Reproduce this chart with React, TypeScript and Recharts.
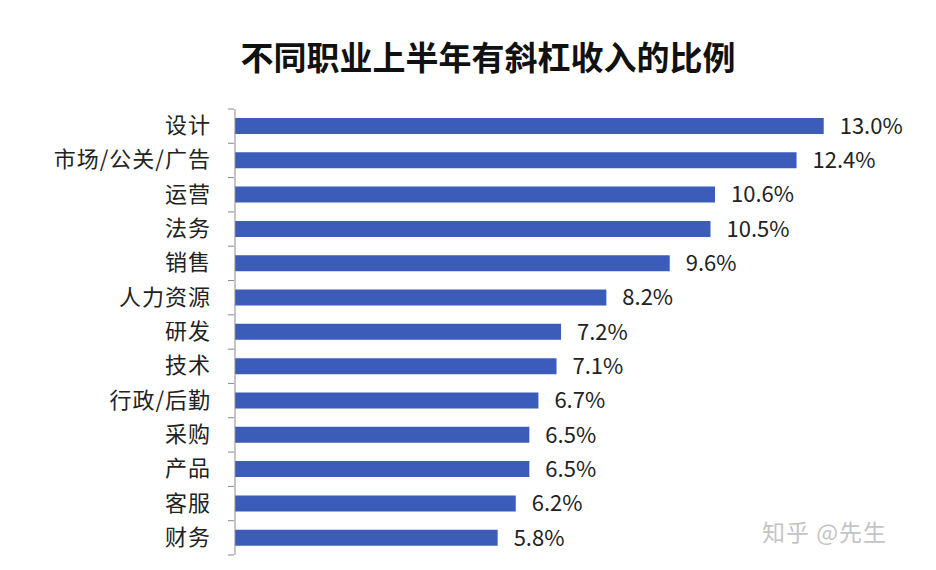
import { BarChart, Bar, XAxis, YAxis, LabelList } from "recharts";

const categories = [
  "设计",
  "市场/公关/广告",
  "运营",
  "法务",
  "销售",
  "人力资源",
  "研发",
  "技术",
  "行政/后勤",
  "采购",
  "产品",
  "客服",
  "财务",
];
const shares = [13.0, 12.4, 10.6, 10.5, 9.6, 8.2, 7.2, 7.1, 6.7, 6.5, 6.5, 6.2, 5.8];

const FONT = '"Noto Sans CJK SC", "Noto Sans", sans-serif';
const BAND = (555 - 109) / categories.length;

function CategoryTick(props: any) {
  const { x, y, payload, index } = props;
  const last = index === categories.length - 1;
  return (
    <g>
      <line x1={x + 1} x2={x + 7} y1={y - BAND / 2} y2={y - BAND / 2} stroke="#8a8a8a" />
      {last && <line x1={x + 1} x2={x + 7} y1={y + BAND / 2} y2={y + BAND / 2} stroke="#8a8a8a" />}
      <text
        x={x - 16}
        y={y}
        dy={7}
        textAnchor="end"
        fontSize={22}
        letterSpacing={1}
        fill="#222"
        fontFamily={FONT}
      >
        {payload.value}
      </text>
    </g>
  );
}

export default function App() {
  const data = categories.map((name, i) => ({ name, value: shares[i] }));
  return (
    <div style={{ position: "absolute", left: 0, top: 0, width: 936, height: 570, background: "#fff" }}>
      <div
        style={{
          position: "absolute",
          left: 0,
          width: 976,
          top: 33,
          textAlign: "center",
          fontFamily: FONT,
          fontWeight: 700,
          fontSize: 33,
          color: "#111",
          lineHeight: "46px",
        }}
      >
        不同职业上半年有斜杠收入的比例
      </div>
      <BarChart
        width={936}
        height={570}
        data={data}
        layout="vertical"
        margin={{ top: 109, right: 67, bottom: 15, left: 0 }}
        barCategoryGap={0}
      >
        <XAxis type="number" domain={[0, 14]} hide />
        <YAxis
          type="category"
          dataKey="name"
          width={235}
          axisLine={{ stroke: "#8a8a8a" }}
          tickLine={false}
          tick={<CategoryTick />}
          interval={0}
        />
        <Bar dataKey="value" fill="#3b5cb8" barSize={16} isAnimationActive={false}>
          <LabelList
            dataKey="value"
            position="right"
            offset={16}
            fontSize={22}
            fill="#222"
            fontFamily={FONT}
            formatter={(v: any) => `${Number(v).toFixed(1)}%`}
          />
        </Bar>
      </BarChart>
      <div
        style={{
          position: "absolute",
          left: 762,
          top: 514,
          fontFamily: FONT,
          fontSize: 23,
          color: "#c4c4c4",
          letterSpacing: 1,
        }}
      >
        知乎 @先生
      </div>
    </div>
  );
}
